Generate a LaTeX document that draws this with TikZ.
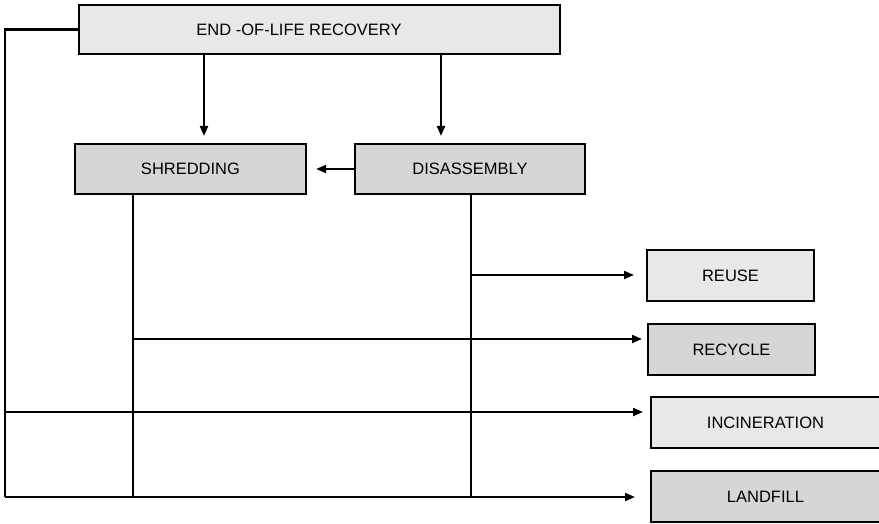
\documentclass[tikz,border=0pt]{standalone}
\usepackage{fontspec}
\setmainfont{Liberation Sans}
\usetikzlibrary{arrows.meta}
\definecolor{boxlight}{HTML}{E8E8E8}
\definecolor{boxdark}{HTML}{D6D6D6}
\begin{document}
\begin{tikzpicture}[x=1pt,y=-1pt,
  labelfont/.style={font=\fontsize{16.5}{19}\selectfont},
  stagebox/.style={draw=black, line width=2.2pt, rectangle, inner sep=0pt, labelfont},
  light/.style={stagebox, fill=boxlight},
  dark/.style={stagebox, fill=boxdark},
  link/.style={line width=2.1pt, black},
  flow/.style={link, -{Triangle[length=10pt,width=8pt]}}]
\useasboundingbox (0,0) rectangle (879,524);
\begin{scope}
\clip (0,0) rectangle (879,524);
% process stages
\node[light, minimum width=481pt, minimum height=49pt] (eol) at (319.5,29.5) {};
\node[labelfont] (eoltext) at (299,30) {END -OF-LIFE RECOVERY};
\node[dark, minimum width=231pt, minimum height=50pt] (shred) at (190.5,169) {SHREDDING};
\node[dark, minimum width=230pt, minimum height=50pt] (disas) at (470,169) {DISASSEMBLY};
% destinations
\node[light, minimum width=167pt, minimum height=51pt] (reuse) at (730.5,275.5) {REUSE};
\node[dark, minimum width=167pt, minimum height=51pt] (recycle) at (731.5,349.5) {RECYCLE};
\node[light, minimum width=229pt, minimum height=51pt] (incin) at (765.5,422.5) {INCINERATION};
\node[dark, minimum width=229pt, minimum height=51pt] (landfill) at (765.5,496.5) {LANDFILL};
\end{scope}
% routing points
\coordinate (shredtip) at (204,136);
\coordinate (disastip) at (441,136);
\coordinate (lbot) at (5,497);
\coordinate (lincin) at (5,412);
\coordinate (sbot) at (133,497);
\coordinate (dbot) at (471,497);
\coordinate (srec) at (133,339);
\coordinate (dreuse) at (471,275);
\coordinate (reusetip) at (634,275);
\coordinate (recycletip) at (642,339);
\coordinate (incintip) at (643,412);
\coordinate (landtip) at (635,497);
% connectors
\draw[flow] (eol.south -| shredtip) -- (shredtip);
\draw[flow] (eol.south -| disastip) -- (disastip);
\draw[flow, shorten >=9pt] (disas.west) -- (shred.east);
\draw[link] (eol.west) -| (lbot);
\draw[link] (shred.south -| sbot) -- (sbot);
\draw[link] (disas.south -| dbot) -- (dbot);
\draw[flow] (dreuse) -- (reusetip);
\draw[flow] (srec) -- (recycletip);
\draw[flow] (lincin) -- (incintip);
\draw[flow] (lbot) -- (landtip);
\end{tikzpicture}
\end{document}
